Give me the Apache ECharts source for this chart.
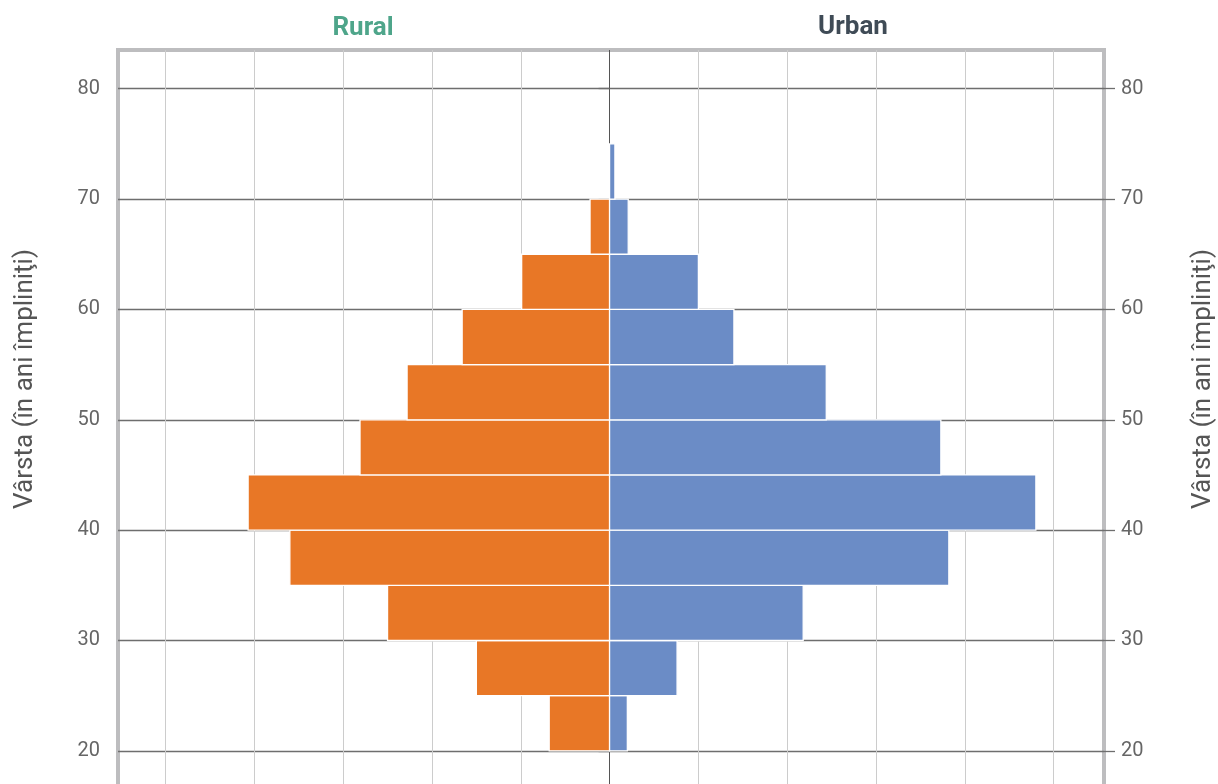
<!DOCTYPE html>
<html lang="ro">
<head>
    <meta charset="UTF-8"/>
    <script src="https://cdn.jsdelivr.net/npm/echarts@6/dist/echarts.min.js"></script>
    <title>Piramida varstelor</title>
    <style>
        html, body {
            margin: 0;
            padding: 0;
            background: #fff;
            overflow: hidden;
        }
        /* graficul continua sub marginea ferestrei */
        #chart {
            width: 1218px;
            height: 850px;
        }
    </style>
</head>
<body>
<div id="chart"></div>
<script type="text/javascript">
    // grupe de varsta (inceputul intervalului de 5 ani)
    var ageStarts = [20, 25, 30, 35, 40, 45, 50, 55, 60, 65, 70];
    var binSize = 5;
    var ruralValues = [0.68, 1.50, 2.50, 3.60, 4.07, 2.81, 2.28, 1.66, 0.99, 0.22, 0];
    var urbanValues = [0.20, 0.76, 2.18, 3.82, 4.80, 3.73, 2.44, 1.40, 1.00, 0.21, 0.06];
    var ageTicks = [20, 30, 40, 50, 60, 70, 80];
    var valueTicks = [-5, -4, -3, -2, -1, 0, 1, 2, 3, 4, 5];

    var axisName = 'Vârsta (în ani împliniţi)';
    var fontFamily = 'Roboto, "Noto Sans", sans-serif';

    function buildData(values, side) {
        var out = [];
        for (var i = 0; i < values.length; i++) {
            if (!values[i]) continue;
            var v = values[i] * side;
            out.push([Math.min(0, v), Math.max(0, v), ageStarts[i], ageStarts[i] + binSize]);
        }
        return out;
    }

    function rectRenderer(color) {
        return function (params, api) {
            var p0 = api.coord([api.value(0), api.value(3)]);
            var p1 = api.coord([api.value(1), api.value(2)]);
            return {
                type: 'rect',
                shape: {
                    x: p0[0],
                    y: p0[1],
                    width: p1[0] - p0[0],
                    height: p1[1] - p0[1]
                },
                style: {
                    fill: color,
                    stroke: '#ffffff',
                    lineWidth: 1.3
                }
            };
        };
    }

    var yAxisBase = {
        type: 'value',
        min: 15,
        max: 83.51,
        name: axisName,
        nameLocation: 'middle',
        nameRotate: 90,
        nameTextStyle: {
            color: '#555',
            fontSize: 26,
            fontFamily: fontFamily,
            padding: [0, 0, 0, 98]
        },
        axisLine: {show: false},
        axisTick: {
            show: true,
            length: 11,
            customValues: ageTicks,
            lineStyle: {color: '#6e6e6e', width: 1.3}
        },
        axisLabel: {
            customValues: ageTicks,
            color: '#666',
            fontSize: 20,
            fontFamily: fontFamily,
            padding: [7, 0, 0, 0]
        }
    };

    var chart = echarts.init(document.getElementById('chart'));
    var option = {
        animation: false,
        title: [
            {
                text: 'Rural',
                left: 358,
                top: 10,
                textAlign: 'center',
                textStyle: {color: '#4ea58a', fontSize: 26, fontWeight: 'bold', fontFamily: fontFamily}
            },
            {
                text: 'Urban',
                left: 848,
                top: 9,
                textAlign: 'center',
                textStyle: {color: '#3f4b56', fontSize: 26, fontWeight: 'bold', fontFamily: fontFamily}
            }
        ],
        grid: {
            show: true,
            left: 118,
            right: 114,
            top: 50,
            bottom: 44,
            borderColor: '#bdbdbf',
            borderWidth: 4,
            outerBoundsMode: 'none',
            containLabel: false
        },
        xAxis: {
            type: 'value',
            min: -5.535,
            max: 5.567,
            axisLine: {show: false},
            axisTick: {show: false, customValues: valueTicks},
            axisLabel: {show: false},
            splitLine: {
                show: true,
                lineStyle: {
                    width: 1,
                    color: valueTicks.map(function (v) { return v === 0 ? '#555555' : '#cccccc'; })
                }
            }
        },
        yAxis: [
            echarts.util.merge({
                position: 'left',
                nameGap: 80,
                axisLabel: {margin: 18},
                splitLine: {show: true, lineStyle: {color: '#6e6e6e', width: 1.3}}
            }, yAxisBase),
            echarts.util.merge({
                position: 'right',
                nameGap: 86,
                axisLabel: {margin: 17},
                splitLine: {show: false}
            }, yAxisBase)
        ],
        series: [
            {
                name: 'Rural',
                type: 'custom',
                renderItem: rectRenderer('#e87726'),
                encode: {x: [0, 1], y: [2, 3]},
                data: buildData(ruralValues, -1)
            },
            {
                name: 'Urban',
                type: 'custom',
                renderItem: rectRenderer('#6b8cc6'),
                encode: {x: [0, 1], y: [2, 3]},
                data: buildData(urbanValues, 1)
            }
        ]
    };
    chart.setOption(option);
</script>
</body>
</html>
